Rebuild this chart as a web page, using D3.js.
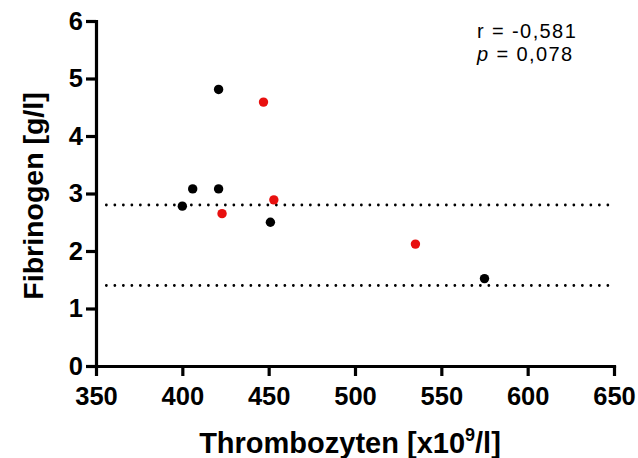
<!DOCTYPE html>
<html>
<head>
<meta charset="utf-8">
<script src="https://cdn.jsdelivr.net/npm/d3@7"></script>
<style>
  body { margin: 0; background: #fff; }
  svg { display: block; }
  text { font-family: "Liberation Sans", Arial, Helvetica, sans-serif; }
</style>
</head>
<body>
<svg id="chart" width="638" height="458"></svg>
<script>
// Thrombocyte count vs. fibrinogen, two patient groups
const blackX = [400, 406, 421, 421, 451, 575];
const blackY = [2.78, 3.08, 4.81, 3.08, 2.50, 1.52];
const redX = [423, 447, 453, 535];
const redY = [2.65, 4.59, 2.89, 2.12];
const xTicks = [350, 400, 450, 500, 550, 600, 650];
const yTicks = [0, 1, 2, 3, 4, 5, 6];
const refLines = [2.8, 1.4];
const statLines = ["r = -0,581", "p = 0,078"];

const svg = d3.select("#chart");

const x = d3.scaleLinear().domain([350, 650]).range([96, 614]);
const y = d3.scaleLinear().domain([0, 6]).range([366, 21]);

// reference ranges (dotted)
svg.append("g").selectAll("line").data(refLines).join("line")
  .attr("x1", x(356)).attr("x2", x(650))
  .attr("y1", d => y(d)).attr("y2", d => y(d))
  .attr("stroke", "#000")
  .attr("stroke-width", 2.8)
  .attr("stroke-linecap", "round")
  .attr("stroke-dasharray", "0 8.5");

// axes
const xAxis = svg.append("g")
  .attr("transform", `translate(0,${y(0)})`)
  .call(d3.axisBottom(x).tickValues(xTicks).tickFormat(d3.format("d"))
    .tickSize(10).tickSizeOuter(0).tickPadding(11));
const yAxis = svg.append("g")
  .attr("transform", `translate(${x(350)},0)`)
  .call(d3.axisLeft(y).tickValues(yTicks).tickFormat(d3.format("d"))
    .tickSize(10).tickSizeOuter(0).tickPadding(3));

[xAxis, yAxis].forEach(g => {
  g.attr("font-size", null).attr("font-family", null);
  g.select(".domain").attr("stroke", "#000").attr("stroke-width", 3.2).attr("stroke-linecap", "square");
  g.selectAll(".tick line").attr("stroke", "#000").attr("stroke-width", 3.2);
  g.selectAll(".tick text")
    .attr("fill", "#000")
    .style("font-size", "25.5px")
    .style("font-weight", "bold");
});

// points
svg.append("g").selectAll("circle").data(blackX.map((d, i) => [d, blackY[i]])).join("circle")
  .attr("cx", d => x(d[0])).attr("cy", d => y(d[1])).attr("r", 4.7)
  .attr("fill", "#000");
svg.append("g").selectAll("circle").data(redX.map((d, i) => [d, redY[i]])).join("circle")
  .attr("cx", d => x(d[0])).attr("cy", d => y(d[1])).attr("r", 4.7)
  .attr("fill", "#e8100f");

// axis titles
const xTitle = svg.append("text")
  .attr("x", 350).attr("y", 453)
  .attr("text-anchor", "middle")
  .style("font-size", "29px").style("font-weight", "bold");
xTitle.append("tspan").text("Thrombozyten [x10");
xTitle.append("tspan").attr("dy", -12).style("font-size", "18px").text("9");
xTitle.append("tspan").attr("dy", 12).text("/l]");

svg.append("text")
  .attr("transform", "translate(43,196) rotate(-90)")
  .attr("text-anchor", "middle")
  .style("font-size", "28.5px").style("font-weight", "bold")
  .text("Fibrinogen [g/l]");

// correlation statistics
const stats = svg.append("g").style("font-size", "20px").style("letter-spacing", "1.4px");
stats.append("text").attr("x", 477).attr("y", 38).text(statLines[0]);
const pLine = stats.append("text").attr("x", 477).attr("y", 61);
pLine.append("tspan").style("font-style", "italic").text(statLines[1].slice(0, 1));
pLine.append("tspan").text(statLines[1].slice(1));
</script>
</body>
</html>
